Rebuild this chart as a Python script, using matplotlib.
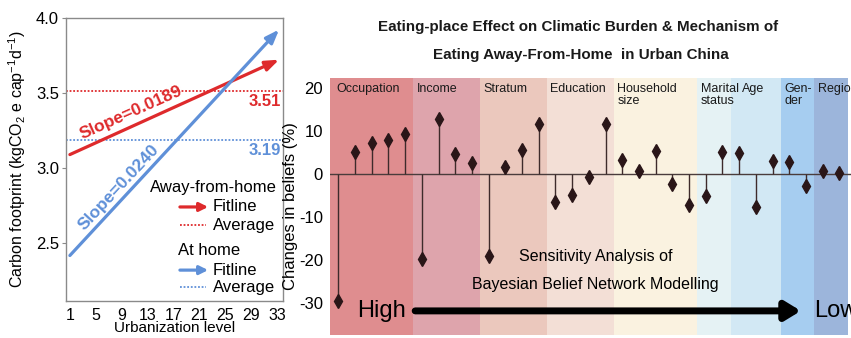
import numpy as np
import matplotlib
matplotlib.use("Agg")
import matplotlib.pyplot as plt

plt.rcParams["font.family"] = ["Liberation Sans", "DejaVu Sans"]
plt.rcParams["mathtext.fontset"] = "custom"
plt.rcParams["mathtext.rm"] = "Liberation Sans"
plt.rcParams["mathtext.it"] = "Liberation Sans"

# ---- left panel data ----
urban_ticks = [1, 5, 9, 13, 17, 21, 25, 29, 33]
fit_x = [1, 33.3]
away_fit = [3.09, 3.72]
home_fit = [2.42, 3.92]
away_avg = 3.51
home_avg = 3.19
away_slope = "Slope=0.0189"
home_slope = "Slope=0.0240"

# ---- right panel data ----
groups = ["Occupation", "Income", "Stratum", "Education", "Household\nsize",
          "Marital\nstatus", "Age", "Gen-\nder", "Region"]
group_values = [
    [-29.6, 5.2, 7.3, 7.9, 9.2],
    [-19.8, 12.7, 4.6, 2.5],
    [-19.0, 1.7, 5.5, 11.5],
    [-6.5, -4.8, -0.6, 11.7],
    [3.2, 0.8, 5.4, -2.3, -7.1],
    [-5.2, 5.2],
    [4.8, -7.7, 3.1],
    [2.8, -2.7],
    [0.8, 0.2],
]
band_colors = ["#df8d8f", "#dea4ac", "#ebc8bd", "#f3dfd6", "#faf2e0",
               "#e5f2f4", "#d2e8f4", "#a6cdf0", "#9cb5db"]
belief_ticks = [20, 10, 0, -10, -20, -30]

RED = "#de2a2c"
BLUE = "#5f90d8"

fig = plt.figure(figsize=(8.51, 3.38), dpi=100)
W, H = 851, 338

def px_axes(x0, y_top, x1, y_bot):
    return fig.add_axes([x0 / W, 1 - y_bot / H, (x1 - x0) / W, (y_bot - y_top) / H])

# ================= left panel =================
ax = px_axes(66, 17.5, 283, 300.7)
ax.set_xlim(0.4, 33.9)
ax.set_ylim(2.12, 4.0)
for s in ax.spines.values():
    s.set_color("#8a8a8a")
    s.set_linewidth(1.0)
ax.set_xticks(urban_ticks)
ax.set_yticks([2.5, 3.0, 3.5, 4.0])
ax.tick_params(axis="x", length=0, labelsize=11.5, pad=5)
ax.tick_params(axis="y", length=3, color="#8a8a8a", labelsize=12, pad=2)
ax.set_xlabel("Urbanization level", fontsize=11, labelpad=-1)
ax.set_ylabel(r"Carbon footprint (kgCO$_2$ e cap$^{-1}$d$^{-1}$)",
              fontsize=11.5, labelpad=6)

ax.axhline(away_avg, color=RED, ls=(0, (1, 1)), lw=1.3)
ax.axhline(home_avg, color=BLUE, ls=(0, (1, 1)), lw=1.3)
ax.annotate("", xy=(fit_x[1], away_fit[1]), xytext=(fit_x[0], away_fit[0]),
            arrowprops=dict(arrowstyle="-|>,head_length=0.8,head_width=0.3",
                            color=RED, lw=2.3, shrinkA=0, shrinkB=0))
ax.annotate("", xy=(fit_x[1], home_fit[1]), xytext=(fit_x[0], home_fit[0]),
            arrowprops=dict(arrowstyle="-|>,head_length=0.8,head_width=0.3",
                            color=BLUE, lw=2.3, shrinkA=0, shrinkB=0))
ax.text(33.6, away_avg - 0.015, f"{away_avg:.2f}", color=RED, fontsize=12,
        fontweight="bold", ha="right", va="top")
ax.text(33.6, home_avg - 0.025, f"{home_avg:.2f}", color=BLUE, fontsize=12,
        fontweight="bold", ha="right", va="top")
ax.text(10.4, 3.37, away_slope, color=RED, fontsize=12.5, fontweight="bold",
        rotation=24, ha="center", va="center")
ax.text(8.5, 2.87, home_slope, color=BLUE, fontsize=12.5, fontweight="bold",
        rotation=47, ha="center", va="center")

# custom legend
tr = ax.transAxes
ax.text(0.387, 0.401, "Away-from-home", transform=tr, fontsize=12, va="center")
ax.annotate("", xy=(0.655, 0.331), xytext=(0.525, 0.331), xycoords=tr,
            arrowprops=dict(arrowstyle="-|>,head_length=0.5,head_width=0.25",
                            color=RED, lw=2.3, shrinkA=0, shrinkB=0))
ax.text(0.677, 0.331, "Fitline", transform=tr, fontsize=12, va="center")
ax.plot([0.525, 0.645], [0.267, 0.267], transform=tr, color=RED,
        ls=(0, (1, 1)), lw=1.3)
ax.text(0.677, 0.267, "Average", transform=tr, fontsize=12, va="center")
ax.text(0.516, 0.179, "At home", transform=tr, fontsize=12, va="center")
ax.annotate("", xy=(0.655, 0.108), xytext=(0.525, 0.108), xycoords=tr,
            arrowprops=dict(arrowstyle="-|>,head_length=0.5,head_width=0.25",
                            color=BLUE, lw=2.3, shrinkA=0, shrinkB=0))
ax.text(0.677, 0.108, "Fitline", transform=tr, fontsize=12, va="center")
ax.plot([0.525, 0.645], [0.048, 0.048], transform=tr, color=BLUE,
        ls=(0, (1, 1)), lw=1.3)
ax.text(0.677, 0.048, "Average", transform=tr, fontsize=12, va="center")

# ================= right panel =================
bx = px_axes(330, 78, 851, 335)
bx.set_xlim(-0.5, 30.7)
bx.set_ylim(-37.4, 22.3)
for s in bx.spines.values():
    s.set_visible(False)
bx.set_xticks([])
bx.set_yticks(belief_ticks)
bx.set_yticklabels([str(t) for t in belief_ticks])
bx.tick_params(axis="y", length=0, labelsize=12, pad=5)
bx.set_ylabel("Changes in beliefs (%)", fontsize=12, labelpad=1)

start = 0
for gi, (name, vals, col) in enumerate(zip(groups, group_values, band_colors)):
    xs = np.arange(start, start + len(vals))
    bx.axvspan(start - 0.5, start + len(vals) - 0.5, color=col, lw=0, zorder=0)
    off = 0.4 if gi == 0 else (0.65 if name == "Age" else 0.2)
    bx.text(start - 0.5 + off, 0.982, name, transform=bx.get_xaxis_transform(),
            fontsize=9, va="top", ha="left", linespacing=1.05, color="#1a1a1a")
    bx.vlines(xs, 0, vals, color="#3e2b2b", lw=1.0, zorder=2)
    bx.plot(xs, vals, ls="none", marker="d", markersize=7.5,
            color="#2a1618", zorder=3)
    start += len(vals)

bx.axhline(0, color="#4a3c3c", lw=1.0, zorder=1)

bx.text(15.4, -19.2, "Sensitivity Analysis of", fontsize=11.5, ha="center", va="center")
bx.text(15.4, -25.7, "Bayesian Belief Network Modelling", fontsize=11.5,
        ha="center", va="center")
bx.annotate("", xy=(27.7, -31.8), xytext=(4.6, -31.8),
            arrowprops=dict(arrowstyle="-|>,head_length=0.9,head_width=0.55",
                            color="black", lw=5, shrinkA=0, shrinkB=0))
bx.text(2.6, -31.8, "High", fontsize=17, ha="center", va="center")
bx.text(28.5, -31.8, "Low", fontsize=17, ha="left", va="center")

fig.text(578 / W, 1 - 27 / H, "Eating-place Effect on Climatic Burden & Mechanism of",
         fontsize=10.9, fontweight="bold", ha="center", va="center", color="#1a1a1a")
fig.text(581 / W, 1 - 55 / H, "Eating Away-From-Home  in Urban China",
         fontsize=10.9, fontweight="bold", ha="center", va="center", color="#1a1a1a")

fig.savefig("out.png", dpi=100)
